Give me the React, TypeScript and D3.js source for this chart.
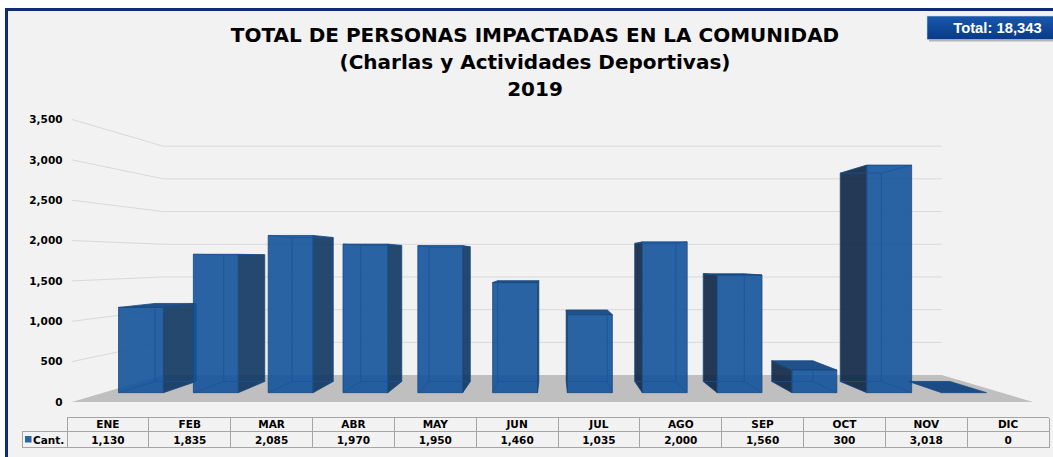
import React from 'react';
import * as d3 from 'd3';

const months = ['ENE', 'FEB', 'MAR', 'ABR', 'MAY', 'JUN', 'JUL', 'AGO', 'SEP', 'OCT', 'NOV', 'DIC'];
const values = [1130, 1835, 2085, 1970, 1950, 1460, 1035, 2000, 1560, 300, 3018, 0];
const yTicks = [0, 500, 1000, 1500, 2000, 2500, 3000, 3500];
const titleLines = ['TOTAL DE PERSONAS IMPACTADAS EN LA COMUNIDAD', '(Charlas y Actividades Deportivas)', '2019'];
const seriesName = 'Cant.';
const totalLabel = 'Total: 18,343';

const W = 1053;
const H = 457;
const CX = 552.5;
const CY = 260;
const K = 1 / 0.81 - 1;
const Z0 = 0.3;
const Z1 = 0.72;

const fmt = d3.format(',');

type Pt = [number, number];
const proj = (x: number, y: number, z: number): Pt => {
  const s = 1 / (1 + K * z);
  return [CX + (x - CX) * s, CY + (y - CY) * s];
};
const poly = (pts: Pt[]) => pts.map((p) => p[0].toFixed(2) + ',' + p[1].toFixed(2)).join(' ');

const FONT = '"DejaVu Sans", Verdana, sans-serif';

export default function App() {
  const x = d3.scaleBand<string>().domain(months).range([72, 1033]).paddingInner(0.4).paddingOuter(0.2);
  const y = d3.scaleLinear().domain([0, 3500]).range([402, 119.5]);
  const tx = d3.scaleBand<string>().domain(months).range([67, 1049]);
  const y0 = y(0);
  const xL = 72;
  const xR = 1033;

  const floor = [proj(xL, y0, 0), proj(xR, y0, 0), proj(xR, y0, 1), proj(xL, y0, 1)];

  const bars = months.map((m, i) => {
    const x0 = x(m)!;
    const x1 = x0 + x.bandwidth();
    const yb = y0;
    const yt = y(values[i]);
    const mid = (x0 + x1) / 2;
    const leftOfCenter = mid < CX;
    const xs = leftOfCenter ? x1 : x0;
    const xh = leftOfCenter ? x0 : x1;
    const front = [proj(x0, yb, Z0), proj(x1, yb, Z0), proj(x1, yt, Z0), proj(x0, yt, Z0)];
    const side = [proj(xs, yb, Z0), proj(xs, yb, Z1), proj(xs, yt, Z1), proj(xs, yt, Z0)];
    const topVisible = yt >= CY;
    const top = [proj(x0, yt, Z0), proj(x1, yt, Z0), proj(x1, yt, Z1), proj(x0, yt, Z1)];
    const hidden: [Pt, Pt][] = [
      [proj(x0, yb, Z1), proj(x1, yb, Z1)],
      [proj(xh, yb, Z1), proj(xh, yt, Z1)],
      [proj(xh, yb, Z0), proj(xh, yb, Z1)],
    ];
    if (!topVisible) {
      hidden.push([proj(x0, yt, Z1), proj(x1, yt, Z1)]);
      hidden.push([proj(xh, yt, Z0), proj(xh, yt, Z1)]);
    }
    return { m, front, side, top, topVisible, hidden, leftOfCenter, h: yb - yt };
  });

  return (
    <svg width={W} height={H} style={{ position: 'absolute', left: 0, top: 0, display: 'block' }}>
      <defs>
        <linearGradient id="totalGrad" x1="0" y1="0" x2="0" y2="1">
          <stop offset="0" stopColor="#1a58ac" />
          <stop offset="1" stopColor="#083a88" />
        </linearGradient>
      </defs>
      <rect x={0} y={0} width={W} height={H} fill="#ffffff" />
      <rect x={5} y={8} width={W} height={H} fill="#0f2d6e" />
      <rect x={8} y={11} width={W} height={H} fill="#f2f2f2" />

      {/* Title */}
      <g fontFamily={FONT} fontWeight="bold" fill="#000" textAnchor="middle">
        <text x={535} y={41.5} fontSize={20}>{titleLines[0]}</text>
        <text x={535} y={68.5} fontSize={20}>{titleLines[1]}</text>
        <text x={535} y={95.5} fontSize={20}>{titleLines[2]}</text>
      </g>

      {/* Total box */}
      <rect x={929} y={18} width={140} height={23.5} fill="#000" opacity={0.25} />
      <rect x={927} y={16} width={140} height={23.5} fill="url(#totalGrad)" stroke="#c9d3e6" strokeWidth={0.6} />
      <text x={997.5} y={33.3} fontFamily='"Liberation Sans", Arial, sans-serif' fontWeight="bold" fontSize={14.8} fill="#fff" textAnchor="middle">
        {totalLabel}
      </text>

      {/* Gridlines */}
      <g stroke="#d9d9d9" strokeWidth={1} fill="none">
        {yTicks.filter((t) => t > 0).map((t) => {
          const a: Pt = [xL, y(t)];
          const b = proj(xL, y(t), 1);
          const c = proj(xR, y(t), 1);
          return <polyline key={t} points={poly([a, b, c])} />;
        })}
      </g>

      {/* Y axis labels */}
      <g fontFamily={FONT} fontWeight="bold" fontSize={10.5} fill="#000" textAnchor="end">
        {yTicks.map((t) => (
          <text key={t} x={62.5} y={y(t) + 3.8}>{fmt(t)}</text>
        ))}
      </g>

      {/* Floor */}
      <polygon points={poly(floor)} fill="#bfbfbf" />

      {/* Bars */}
      {bars.map((b) => (
        <g key={b.m}>
          {b.h > 0 && (
            <polygon points={poly(b.side)} fill={b.leftOfCenter ? '#0e3560' : '#0c2544'} fillOpacity={0.9} stroke="#17497f" strokeWidth={0.8} strokeLinejoin="round" />
          )}
          {b.topVisible && (
            <polygon points={poly(b.top)} fill="#0a3f80" fillOpacity={0.9} stroke="#17497f" strokeWidth={0.8} strokeLinejoin="round" />
          )}
          {b.h > 0 && (
            <polygon points={poly(b.front)} fill="#13539b" fillOpacity={0.9} stroke="#17497f" strokeWidth={0.8} strokeLinejoin="round" />
          )}
          {b.h > 0 && (
            <g stroke="#1a5299" strokeWidth={0.9} opacity={0.85}>
              {b.hidden.map((l, j) => (
                <line key={j} x1={l[0][0]} y1={l[0][1]} x2={l[1][0]} y2={l[1][1]} />
              ))}
            </g>
          )}
        </g>
      ))}

      {/* Data table */}
      <g stroke="#a6a6a6" strokeWidth={1} fill="none" shapeRendering="crispEdges">
        <line x1={67} y1={417.5} x2={1049} y2={417.5} />
        <line x1={22} y1={431} x2={1049} y2={431} />
        <line x1={22} y1={447.5} x2={1049} y2={447.5} />
        <line x1={22} y1={431} x2={22} y2={447.5} />
        {months.map((m) => (
          <line key={m} x1={tx(m)!} y1={417.5} x2={tx(m)!} y2={447.5} />
        ))}
        <line x1={1049} y1={417.5} x2={1049} y2={447.5} />
      </g>
      <g fontFamily={FONT} fontWeight="bold" fontSize={10.5} fill="#000" textAnchor="middle">
        {months.map((m, i) => (
          <g key={m}>
            <text x={tx(m)! + tx.bandwidth() / 2} y={428}>{m}</text>
            <text x={tx(m)! + tx.bandwidth() / 2} y={443.5}>{fmt(values[i])}</text>
          </g>
        ))}
      </g>
      <rect x={25} y={436} width={6.5} height={6.5} fill="#2a64a5" />
      <text x={33} y={443.5} fontFamily={FONT} fontWeight="bold" fontSize={10.5} fill="#000">{seriesName}</text>
    </svg>
  );
}
